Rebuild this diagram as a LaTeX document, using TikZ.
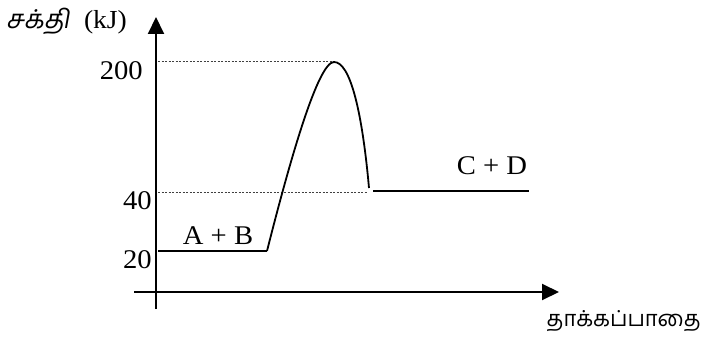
\documentclass[tikz,border=0pt]{standalone}
\usepackage{fontspec}
\setmainfont[FakeStretch=1.06]{Liberation Serif}
\newfontfamily\tamil[Script=Tamil]{Hind Madurai}
\newfontfamily\tamilsl[Script=Tamil,FakeSlant=0.18]{Hind Madurai}
\usetikzlibrary{arrows.meta}
\begin{document}
\begin{tikzpicture}[x=1pt,y=-1pt,
  axis/.style={line width=2pt,-{Triangle[length=17pt,width=16pt]}},
  guide/.style={line width=1pt,black!75,dash pattern=on 2pt off 1.5pt},
  level/.style={line width=1.8pt},
  lbl/.style={inner sep=0pt,font=\fontsize{27}{27}\selectfont}]
\useasboundingbox (0,0) rectangle (704,345);
% axes
\coordinate (yb) at (156,309);
\coordinate (yt) at (156,17);
\coordinate (xl) at (134,292);
\coordinate (xr) at (559,292);
\draw[axis] (yb) -- (yt);
\draw[axis] (xl) -- (xr);
% guides
\coordinate (g200a) at (158,62);
\coordinate (peak) at (334,62);
\coordinate (g40a) at (158,192);
\coordinate (g40b) at (368,192);
\draw[guide] (g200a) -- (peak);
\draw[guide] (g40a) -- (g40b);
% levels and curve
\coordinate (r0) at (158,251);
\coordinate (r1) at (267,251);
\coordinate (pend) at (369,188);
\coordinate (p0) at (373,191);
\coordinate (p1) at (529,191);
\draw[level] (r0) -- (r1);
\draw[level,line join=round] (r1) .. controls (290,160) and (318,62) .. (peak)
  .. controls (350,62) and (362,110) .. (pend);
\draw[level] (p0) -- (p1);
% labels
\node[lbl,anchor=east] (l200) at (143,71) {200};
\node[lbl,anchor=east] (l40) at (152,201) {40};
\node[lbl,anchor=east] (l20) at (152,260) {20};
\node[lbl] (ab) at (218,236) {A + B};
\node[lbl] (cd) at (492,166) {C + D};
\node[inner sep=0pt,anchor=west] (ylab) at (6,21) {\fontsize{26}{26}\selectfont{\tamilsl சக்தி}\hspace{0.55em}(kJ)};
\node[inner sep=0pt,anchor=east] (xlab) at (701,321) {\tamil\fontsize{22}{22}\selectfont தாக்கப்பாதை};
\end{tikzpicture}
\end{document}
